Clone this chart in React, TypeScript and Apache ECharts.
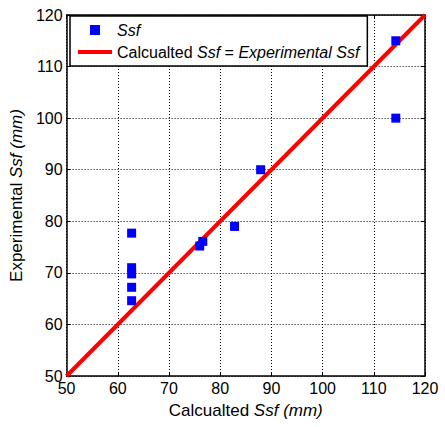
import React, { useEffect, useRef } from "react";
import * as echarts from "echarts";

const xTicks = [50, 60, 70, 80, 90, 100, 110, 120];
const calculatedSsf = [114.3, 114.3, 87.9, 82.8, 76.0, 76.6, 62.7, 62.7, 62.7, 62.7, 62.7];
const experimentalSsf = [115.0, 100.0, 90.0, 79.0, 75.2, 76.1, 77.7, 71.0, 69.8, 67.2, 64.6];
const lineX = [50, 120];
const lineY = [50, 120];

const FONT = "'Liberation Sans', Arial, sans-serif";

export default function App() {
  const ref = useRef<HTMLDivElement>(null);
  useEffect(() => {
    const chart = echarts.init(ref.current!, null, { renderer: "svg" });
    const axisCommon = {
      type: "value" as const,
      min: xTicks[0],
      max: xTicks[xTicks.length - 1],
      interval: 10,
      axisLine: { show: true, lineStyle: { color: "#000", width: 1.5 } },
      axisTick: { show: true, inside: true, length: 4, lineStyle: { color: "#000" } },
    };
    const nameRich = {
      n: { fontFamily: FONT, fontSize: 17, color: "#000" },
      i: { fontFamily: FONT, fontSize: 17, color: "#000", fontStyle: "italic" },
    };
    chart.setOption({
      animation: false,
      backgroundColor: "#fff",
      grid: { left: 63, right: 20, top: 15, bottom: 51 },
      legend: {
        orient: "vertical",
        left: 70,
        top: 16,
        padding: [6, 8, 6, 8],
        itemGap: 6,
        itemWidth: 34,
        itemHeight: 10,
        borderColor: "#000",
        borderWidth: 1.5,
        backgroundColor: "#fff",
        data: [
          { name: "Ssf", icon: "path://M12,0h10v10h-10z" },
          { name: "line", icon: "path://M0,3h34v4h-34z" },
        ],
        formatter: (name: string) =>
          name === "Ssf" ? "{i|Ssf}" : "{n|Calcualted }{i|Ssf}{n| = }{i|Experimental Ssf}",
        textStyle: {
          fontFamily: FONT,
          fontSize: 16,
          color: "#000",
          rich: {
            n: { fontFamily: FONT, fontSize: 16, color: "#000" },
            i: { fontFamily: FONT, fontSize: 16, color: "#000", fontStyle: "italic" },
          },
        },
      },
      xAxis: [
        {
          ...axisCommon,
          position: "bottom",
          name: "{n|Calcualted }{i|Ssf (mm)}",
          nameLocation: "middle",
          nameGap: 26,
          nameTextStyle: { rich: nameRich },
          axisLabel: { fontFamily: FONT, fontSize: 16, color: "#000", margin: 4 },
          splitLine: { show: true, lineStyle: { color: "#000", type: [1, 2], width: 1 } },
        },
        {
          ...axisCommon,
          position: "top",
          axisLabel: { show: false },
          splitLine: { show: false },
        },
      ],
      yAxis: [
        {
          ...axisCommon,
          position: "left",
          name: "{n|Experimental }{i|Ssf (mm)}",
          nameLocation: "middle",
          nameGap: 38,
          nameTextStyle: { rich: nameRich },
          axisLabel: { fontFamily: FONT, fontSize: 16, color: "#000", margin: 4 },
          splitLine: { show: true, lineStyle: { color: "#000", type: [1, 2], width: 1 } },
        },
        {
          ...axisCommon,
          position: "right",
          axisLabel: { show: false },
          splitLine: { show: false },
        },
      ],
      series: [
        {
          name: "line",
          type: "line",
          data: lineX.map((x, i) => [x, lineY[i]]),
          symbol: "none",
          lineStyle: { color: "#ff0000", width: 4 },
          itemStyle: { color: "#ff0000" },
          z: 2,
        },
        {
          name: "Ssf",
          type: "scatter",
          data: calculatedSsf.map((x, i) => [x, experimentalSsf[i]]),
          symbol: "rect",
          symbolSize: 9,
          itemStyle: { color: "#0000ff", opacity: 1 },
          z: 3,
        },
      ],
    });
    return () => chart.dispose();
  }, []);
  return <div ref={ref} style={{ width: 445, height: 427, position: "absolute", left: 0, top: 0 }} />;
}
